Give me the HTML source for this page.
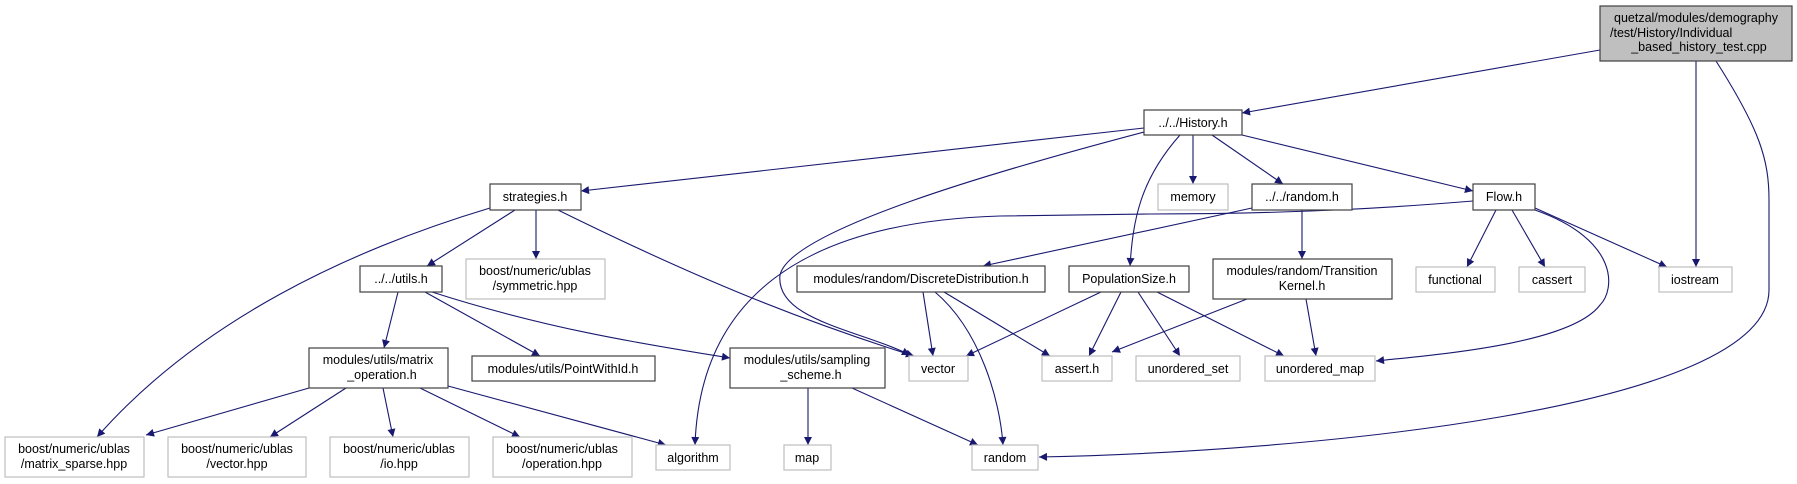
<!DOCTYPE html>
<html><head><meta charset="utf-8"><style>
html,body{margin:0;padding:0;background:#fff;}
svg{display:block;}
text{font-family:"Liberation Sans",Arial,sans-serif;font-size:12.5px;fill:#000;text-anchor:middle;}
.b{fill:#fff;stroke:#404040;stroke-width:1.2;}
.g{fill:#fff;stroke:#bfbfbf;stroke-width:1.2;}
.e{fill:none;stroke:#191970;stroke-width:1.1;marker-end:url(#a);}
</style></head><body>
<svg width="1797" height="484" viewBox="0 0 1797 484" xmlns="http://www.w3.org/2000/svg">
<defs><marker id="a" viewBox="0 0 10 10" refX="10" refY="5" markerWidth="10" markerHeight="8" markerUnits="userSpaceOnUse" orient="auto"><path d="M0,0 L10,5 L0,10 z" fill="#191970"/></marker></defs>

<path class="e" d="M1600,50 L1242,113"/>
<path class="e" d="M1696,61 L1696,267"/>
<path class="e" d="M1716,61 C1760,130 1769,160 1769,200 L1769,290 C1769,410 1300,452 1039,457"/>
<path class="e" d="M1144,128 L581,191"/>
<path class="e" d="M1144,132 C1000,170 790,230 780,275 C775,320 860,330 910,355"/>
<path class="e" d="M1193,135 L1193,184"/>
<path class="e" d="M1212,135 L1283,184"/>
<path class="e" d="M1180,135 C1140,180 1133,220 1130,266"/>
<path class="e" d="M1242,135 L1473,191"/>
<path class="e" d="M490,208 C350,250 200,320 97,437"/>
<path class="e" d="M515,210 L427,266"/>
<path class="e" d="M536,210 L536,259"/>
<path class="e" d="M558,210 C700,280 800,320 914,356"/>
<path class="e" d="M398,292 L384,348"/>
<path class="e" d="M425,292 L540,356"/>
<path class="e" d="M432,292 C550,330 650,345 730,358"/>
<path class="e" d="M309,388 L146,435"/>
<path class="e" d="M346,388 L270,437"/>
<path class="e" d="M383,388 L393,437"/>
<path class="e" d="M420,388 L520,437"/>
<path class="e" d="M448,386 L666,445"/>
<path class="e" d="M1473,201 C1400,207 1300,214 1150,214 L1000,216 C800,222 700,300 695,445"/>
<path class="e" d="M1252,208 L983,266"/>
<path class="e" d="M1302,210 L1302,259"/>
<path class="e" d="M1496,210 L1467,267"/>
<path class="e" d="M1512,210 L1545,267"/>
<path class="e" d="M1535,208 L1667,267"/>
<path class="e" d="M1535,210 C1620,240 1615,290 1600,305 C1570,345 1430,355 1376,361"/>
<path class="e" d="M808,388 L808,445"/>
<path class="e" d="M852,388 L978,445"/>
<path class="e" d="M923,292 L933,356"/>
<path class="e" d="M944,292 L1050,356"/>
<path class="e" d="M935,292 C980,330 1000,400 1003,445"/>
<path class="e" d="M1101,292 L966,356"/>
<path class="e" d="M1121,292 L1089,356"/>
<path class="e" d="M1138,292 L1180,356"/>
<path class="e" d="M1157,292 L1284,356"/>
<path class="e" d="M1247,299 L1112,352"/>
<path class="e" d="M1306,299 L1316,356"/>

<rect x="1600" y="6" width="192" height="55" fill="#bfbfbf" stroke="#404040" stroke-width="1.2"/>
<text x="1696" y="22">quetzal/modules/demography</text>
<text x="1610" y="37" style="text-anchor:start">/test/History/Individual</text>
<text x="1699" y="51">_based_history_test.cpp</text>

<rect class="b" x="1144" y="110" width="98" height="25"/><text x="1193" y="127">../../History.h</text>
<rect class="b" x="490" y="184" width="91" height="26"/><text x="535" y="201">strategies.h</text>
<rect class="g" x="1158" y="184" width="70" height="26"/><text x="1193" y="201">memory</text>
<rect class="b" x="1252" y="184" width="100" height="26"/><text x="1302" y="201">../../random.h</text>
<rect class="b" x="1473" y="184" width="62" height="26"/><text x="1504" y="201">Flow.h</text>
<rect class="b" x="360" y="266" width="82" height="26"/><text x="401" y="283">../../utils.h</text>
<rect class="g" x="466" y="259" width="139" height="40"/><text x="535" y="275">boost/numeric/ublas</text><text x="535" y="290">/symmetric.hpp</text>
<rect class="b" x="797" y="266" width="248" height="26"/><text x="921" y="283">modules/random/DiscreteDistribution.h</text>
<rect class="b" x="1069" y="266" width="120" height="26"/><text x="1129" y="283">PopulationSize.h</text>
<rect class="b" x="1213" y="259" width="179" height="40"/><text x="1302" y="275">modules/random/Transition</text><text x="1302" y="290">Kernel.h</text>
<rect class="g" x="1416" y="267" width="79" height="25"/><text x="1455" y="284">functional</text>
<rect class="g" x="1519" y="267" width="66" height="25"/><text x="1552" y="284">cassert</text>
<rect class="g" x="1659" y="267" width="73" height="25"/><text x="1695" y="284">iostream</text>
<rect class="b" x="309" y="348" width="139" height="40"/><text x="378" y="364">modules/utils/matrix</text><text x="382" y="379">_operation.h</text>
<rect class="b" x="472" y="356" width="183" height="25"/><text x="563" y="373">modules/utils/PointWithId.h</text>
<rect class="b" x="730" y="348" width="155" height="40"/><text x="807" y="364">modules/utils/sampling</text><text x="811" y="379">_scheme.h</text>
<rect class="g" x="909" y="356" width="59" height="25"/><text x="938" y="373">vector</text>
<rect class="g" x="1042" y="356" width="70" height="25"/><text x="1077" y="373">assert.h</text>
<rect class="g" x="1136" y="356" width="104" height="25"/><text x="1188" y="373">unordered_set</text>
<rect class="g" x="1265" y="356" width="110" height="25"/><text x="1320" y="373">unordered_map</text>
<rect class="g" x="5" y="437" width="139" height="40"/><text x="74" y="453">boost/numeric/ublas</text><text x="74" y="468">/matrix_sparse.hpp</text>
<rect class="g" x="168" y="437" width="138" height="40"/><text x="237" y="453">boost/numeric/ublas</text><text x="237" y="468">/vector.hpp</text>
<rect class="g" x="330" y="437" width="139" height="40"/><text x="399" y="453">boost/numeric/ublas</text><text x="399" y="468">/io.hpp</text>
<rect class="g" x="493" y="437" width="139" height="40"/><text x="562" y="453">boost/numeric/ublas</text><text x="562" y="468">/operation.hpp</text>
<rect class="g" x="656" y="445" width="74" height="25"/><text x="693" y="462">algorithm</text>
<rect class="g" x="784" y="445" width="47" height="25"/><text x="807" y="462">map</text>
<rect class="g" x="972" y="445" width="66" height="25"/><text x="1005" y="462">random</text>
</svg>
</body></html>
